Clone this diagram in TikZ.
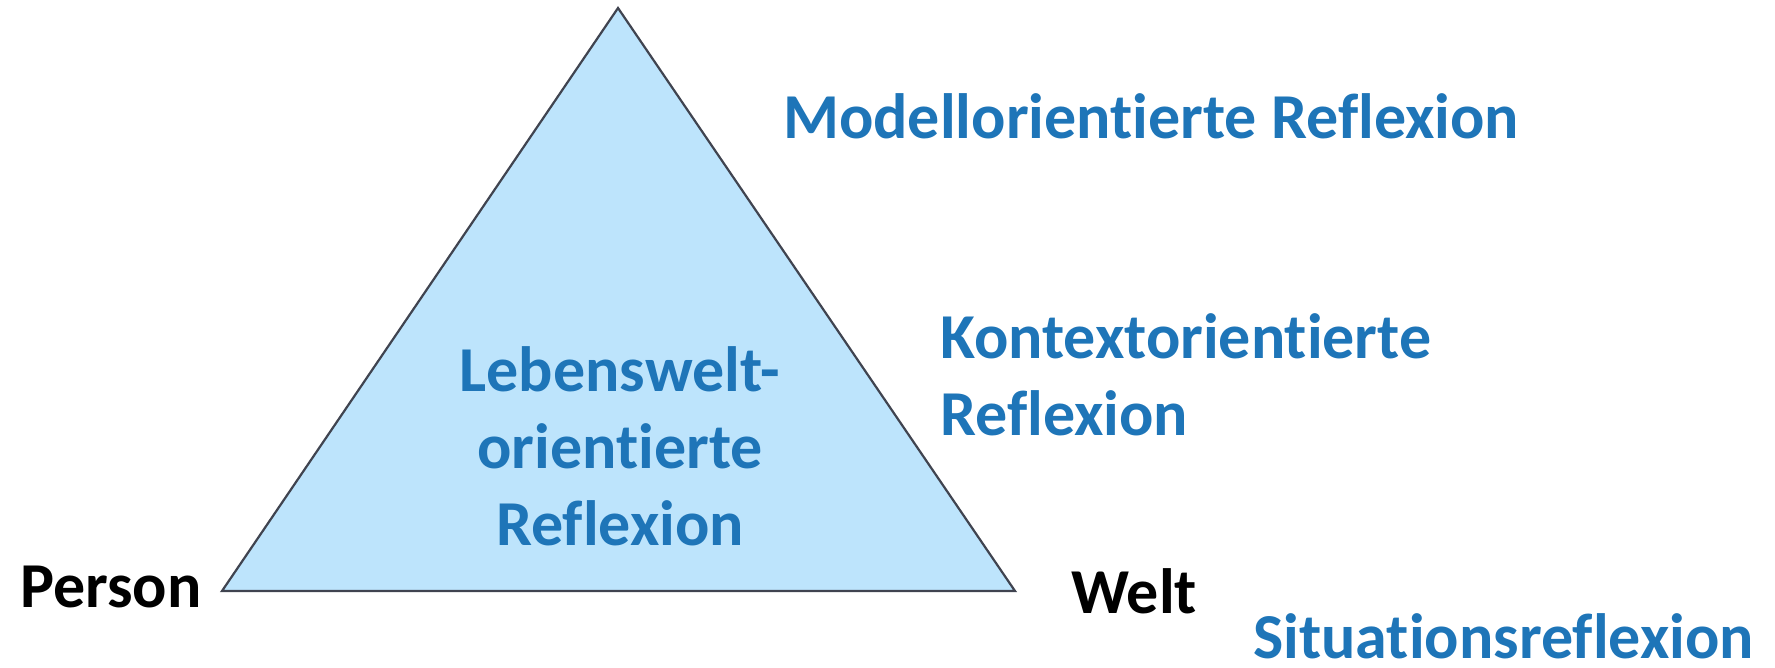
\documentclass[tikz,border=0pt]{standalone}
\usepackage{fontspec}
\setmainfont{Carlito}[Ligatures={NoCommon}]
\definecolor{reflblue}{RGB}{30,117,184}
\definecolor{trifill}{RGB}{189,228,252}
\definecolor{triedge}{RGB}{64,68,80}
\begin{document}
\begin{tikzpicture}[x=1pt,y=-1pt,
  lbl/.style={font=\fontsize{64}{77}\selectfont\bfseries, inner sep=0pt, anchor=base west},
  bluelbl/.style={lbl, text=reflblue},
  blacklbl/.style={lbl, text=black}]
\useasboundingbox (0,0) rectangle (1775,667);
% triangle corners
\coordinate (top) at (618,8);
\coordinate (left) at (222,591);
\coordinate (right) at (1015,591);
\draw[triedge, fill=trifill, line width=2.2pt, line join=miter] (top) -- (left) -- (right) -- cycle;
% labels inside and around the triangle (multi-line nodes sit on their last baseline)
\node[bluelbl, anchor=base, align=center] (life) at (620,545) {Lebenswelt-\\orientierte\\Reflexion};
\node[bluelbl] (model) at (783,138) {Modellorientierte Reflexion};
\node[bluelbl, align=left] (context) at (940,435) {Kontextorientierte\\Reflexion};
\node[bluelbl] (situation) at (1253,658) {Situationsreflexion};
\node[blacklbl] (person) at (20,607) {Person};
\node[blacklbl] (welt) at (1071,613) {Welt};
\end{tikzpicture}
\end{document}
